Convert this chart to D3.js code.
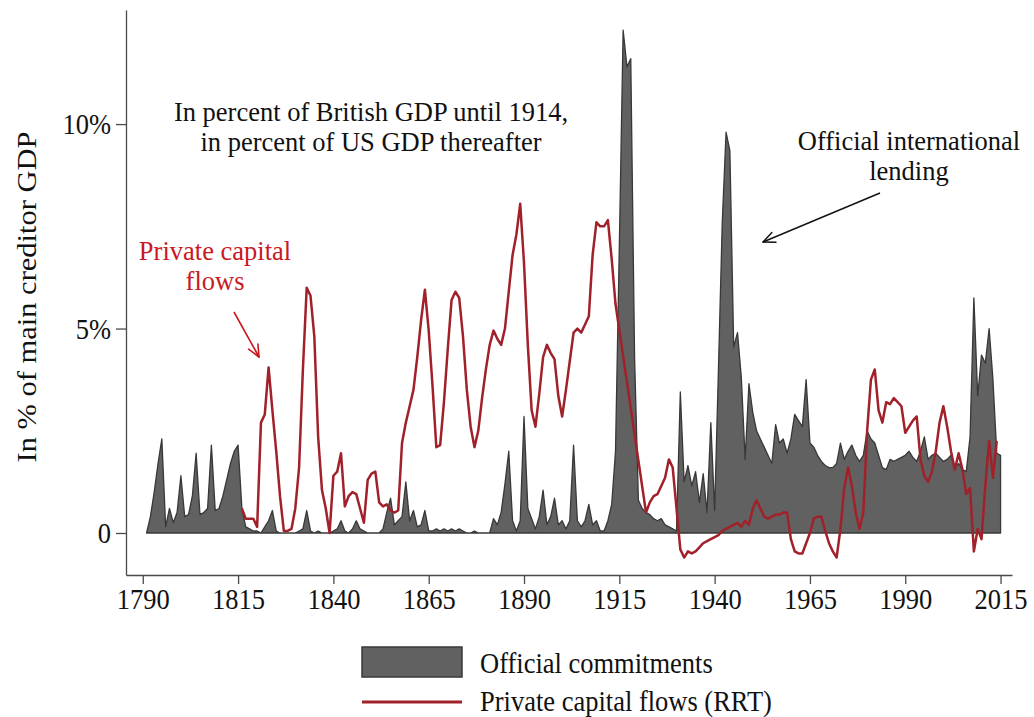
<!DOCTYPE html>
<html>
<head>
<meta charset="utf-8">
<script src="https://cdnjs.cloudflare.com/ajax/libs/d3/7.8.5/d3.min.js"></script>
<style>
  body { margin: 0; background: #fff; }
  svg { display: block; }
  text { font-family: "Liberation Serif", "Times New Roman", serif; }
</style>
</head>
<body>
<svg id="chart" width="1034" height="717"></svg>
<script>
// official commitments, % of main creditor GDP, one value per year from 1791
var officialStart = 1791;
var officialValues = [
  0, 0.4, 1.0, 1.7, 2.3, 0.15, 0.6, 0.25, 0.5, 1.4,          // 1791-1800
  0.4, 0.45, 0.9, 1.95, 0.45, 0.5, 0.6, 2.15, 0.55, 0.6,     // 1801-1810
  0.9, 1.3, 1.7, 2.0, 2.15, 0.6, 0.15, 0.1, 0.05, 0.05,      // 1811-1820
  0, 0.15, 0.3, 0.55, 0.05, 0, 0, 0, 0, 0,                   // 1821-1830
  0.05, 0.1, 0.55, 0.05, 0, 0.05, 0, 0, 0, 0.05,             // 1831-1840
  0.1, 0.3, 0.05, 0, 0.1, 0.3, 0.1, 0.05, 0, 0,              // 1841-1850
  0, 0, 0.1, 0.5, 0.85, 0.2, 0.3, 0.4, 1.25, 0.3,            // 1851-1860
  0.55, 0.15, 0.2, 0.55, 0.05, 0.05, 0.1, 0.05, 0.1, 0.05,   // 1861-1870
  0.1, 0.05, 0.1, 0.05, 0, 0, 0.05, 0, 0, 0,                 // 1871-1880
  0, 0.35, 0.2, 0.5, 1.2, 2.0, 0.3, 0.05, 0.3, 2.85,         // 1881-1890
  0.6, 0.35, 0.1, 0.4, 1.05, 0.2, 0.4, 0.85, 0.2, 0.3,       // 1891-1900
  0.1, 0.3, 2.15, 0.3, 0.15, 0.3, 0.7, 0.2, 0.3, 0.05,       // 1901-1910
  0.05, 0.3, 0.7, 2.0, 7.0, 12.3, 11.4, 11.6, 4.3, 0.8,      // 1911-1920
  0.6, 0.5, 0.45, 0.35, 0.3, 0.35, 0.2, 0.15, 0.1, 0.05,     // 1921-1930
  3.45, 1.25, 1.65, 1.15, 1.5, 0.75, 1.45, 0.5, 2.7, 0.55,   // 1931-1940
  4.0, 7.6, 9.8, 9.35, 4.55, 4.9, 3.8, 1.8, 3.65, 2.95,      // 1941-1950
  2.5, 2.3, 2.1, 1.9, 1.7, 2.65, 2.2, 2.3, 1.95, 2.3,        // 1951-1960
  2.9, 2.75, 2.6, 3.75, 2.2, 2.1, 1.9, 1.75, 1.65, 1.6,      // 1961-1970
  1.6, 1.7, 2.2, 1.8, 2.0, 2.15, 1.9, 1.75, 1.9, 2.5,        // 1971-1980
  2.3, 2.2, 1.9, 1.6, 1.55, 1.8, 1.75, 1.8, 1.85, 1.9,       // 1981-1990
  2.0, 1.85, 1.75, 2.0, 2.35, 1.8, 1.9, 1.95, 1.85, 1.75,    // 1991-2000
  1.8, 1.9, 1.6, 1.7, 1.55, 1.5, 2.35, 5.75, 3.35, 4.35,     // 2001-2010
  4.15, 5.0, 3.75, 1.95, 1.9                                 // 2011-2015
];

// private capital flows (RRT), one value per year from 1816, null = no data
var privateStart = 1816;
var privateValues = [
  0.6, 0.35, 0.35, 0.35, 0.15,                               // 1816-1820
  2.7, 2.9, 4.05, 3.0, 2.0, 0.9, 0.05, 0.05, 0.1, 0.6,       // 1821-1830
  1.6, 4.0, 6.0, 5.8, 4.8, 2.35, 1.05, 0.6, 0.0, 1.4,        // 1831-1840
  1.5, 1.95, 0.65, 0.9, 1.0, 0.95, 0.6, 0.25, 1.3, 1.45,     // 1841-1850
  1.5, 0.75, 0.65, 0.7, 0.55, 0.5, 0.55, 2.2, 2.7, 3.1,      // 1851-1860
  3.5, 4.3, 5.2, 5.95, 4.95, 3.6, 2.1, 2.15, 3.2, 4.5,       // 1861-1870
  5.7, 5.9, 5.75, 4.8, 3.5, 2.6, 2.1, 2.5, 3.3, 4.0,         // 1871-1880
  4.6, 4.95, 4.75, 4.6, 5.0, 5.9, 6.8, 7.3, 8.05, 6.6,       // 1881-1890
  4.6, 3.0, 2.6, 3.4, 4.3, 4.6, 4.4, 4.25, 3.35, 2.85,       // 1891-1900
  3.5, 4.2, 4.9, 5.0, 4.9, 5.1, 5.3, 6.8, 7.6, 7.5,          // 1901-1910
  7.5, 7.65, 6.7, 5.6, null, null, null, null, null, null,   // 1911-1920
  null, 0.5, 0.75, 0.9, 0.95, 1.15, 1.35, 1.8, 1.6, 0.6,     // 1921-1930
  -0.4, -0.6, -0.45, -0.5, -0.45, -0.35, -0.25, -0.2, -0.15, -0.1, // 1931-1940
  -0.05, 0.05, 0.1, 0.15, 0.2, 0.25, 0.15, 0.3, 0.2, 0.6,    // 1941-1950
  0.8, 0.6, 0.4, 0.35, 0.4, 0.45, 0.45, 0.5, 0.5, -0.15,     // 1951-1960
  -0.45, -0.5, -0.5, -0.25, 0.0, 0.35, 0.4, 0.4, 0.05, -0.25, // 1961-1970
  -0.45, -0.6, 0.1, 1.1, 1.6, 1.15, 0.5, 0.1, 0.5, 2.5,      // 1971-1980
  3.75, 4.0, 3.0, 2.7, 3.2, 3.15, 3.3, 3.2, 3.1, 2.45,       // 1981-1990
  2.6, 2.75, 2.85, 1.8, 1.4, 1.25, 1.5, 2.0, 2.7, 3.1,       // 1991-2000
  2.6, 2.0, 1.55, 1.95, 1.55, 0.95, 1.1, -0.45, 0.1, -0.15,  // 2001-2010
  1.15, 2.25, 1.35, 2.25                                     // 2011-2014
];

var xTickYears = [1790, 1815, 1840, 1865, 1890, 1915, 1940, 1965, 1990, 2015];
var yTickValues = [0, 5, 10];

var officialData = officialValues.map(function (v, i) { return { year: officialStart + i, value: v }; });
var privateData = privateValues
  .map(function (v, i) { return { year: privateStart + i, value: v }; })
  .filter(function (d) { return d.value !== null; });

var S = 1.12;     // the picture is stretched a bit vertically (single-line texts)
var FS = 26.5;
var RED_TEXT = "#c8191f";
var RED_LINE = "#a1212b";

var svg = d3.select("#chart");

var x = d3.scaleLinear().domain([1785.6, 2018]).range([126, 1012]);
var y = d3.scaleLinear().domain([-1.027, 12.79]).range([575, 10]);

// official commitments area
var area = d3.area()
  .x(function (d) { return x(d.year); })
  .y0(y(0))
  .y1(function (d) { return y(d.value); });

svg.append("path")
  .datum(officialData)
  .attr("d", area)
  .attr("fill", "#616161")
  .attr("stroke", "#383838")
  .attr("stroke-width", 1.3)
  .attr("stroke-linejoin", "round");

// private flows line
var line = d3.line()
  .x(function (d) { return x(d.year); })
  .y(function (d) { return y(d.value); });

svg.append("path")
  .datum(privateData)
  .attr("d", line)
  .attr("fill", "none")
  .attr("stroke", RED_LINE)
  .attr("stroke-width", 2.5)
  .attr("stroke-linejoin", "round");

// axes
var yAxis = svg.append("g")
  .attr("transform", "translate(126,0)")
  .call(d3.axisLeft(y).tickValues(yTickValues).tickSize(10).tickSizeOuter(0)
    .tickFormat(function (d) { return d === 0 ? "0" : d + "%"; }));

var xAxis = svg.append("g")
  .attr("transform", "translate(0,575)")
  .call(d3.axisBottom(x).tickValues(xTickYears).tickSize(9).tickSizeOuter(0)
    .tickFormat(d3.format("d")));

[yAxis, xAxis].forEach(function (g) {
  g.attr("font-size", null).attr("font-family", null);
  g.select(".domain").attr("stroke", "#4a4a4a").attr("stroke-width", 1.3);
  g.selectAll(".tick line").attr("stroke", "#4a4a4a").attr("stroke-width", 1.3);
  g.selectAll(".tick text").attr("font-size", FS).attr("fill", "#111")
    .style("font-family", '"Liberation Serif", "Times New Roman", serif');
});
yAxis.selectAll(".tick text").attr("x", -15).attr("transform", "scale(1," + S + ")");
xAxis.selectAll(".tick text").attr("y", 34 / S).attr("dy", 0).attr("transform", "scale(1," + S + ")");

// text helper
function label(px, py, str, color, anchor, rot, sy) {
  var g = svg.append("g")
    .attr("transform", "translate(" + px + "," + py + ") scale(1," + (sy || S) + ")" + (rot ? " rotate(" + rot + ")" : ""));
  g.append("text")
    .attr("text-anchor", anchor || "middle")
    .attr("font-size", FS)
    .attr("fill", color || "#111")
    .text(str);
}

function arrow(x1, y1, x2, y2, color, w) {
  var a = Math.atan2(y2 - y1, x2 - x1), L = 13, sp = 0.42;
  svg.append("line").attr("x1", x1).attr("y1", y1).attr("x2", x2).attr("y2", y2)
    .attr("stroke", color).attr("stroke-width", w);
  [a + Math.PI - sp, a + Math.PI + sp].forEach(function (b) {
    svg.append("line").attr("x1", x2).attr("y1", y2)
      .attr("x2", x2 + L * Math.cos(b)).attr("y2", y2 + L * Math.sin(b))
      .attr("stroke", color).attr("stroke-width", w).attr("stroke-linecap", "round");
  });
}

label(36, 297, "In % of main creditor GDP", "#111", "middle", -90, 1.15);

// two-line notes: no vertical stretch so the lines stay apart
label(371, 121, "In percent of British GDP until 1914,", "#111", "middle", 0, 1);
label(371, 151, "in percent of US GDP thereafter", "#111", "middle", 0, 1);

label(909, 150, "Official international", "#111", "middle", 0, 1);
label(909, 180, "lending", "#111", "middle", 0, 1);
arrow(880, 193, 763, 242, "#111", 1.4);

label(215, 260, "Private capital", RED_TEXT, "middle", 0, 1);
label(215, 290, "flows", RED_TEXT, "middle", 0, 1);
arrow(234, 312, 259, 357, RED_TEXT, 1.6);

// legend
svg.append("rect").attr("x", 362).attr("y", 647).attr("width", 100).attr("height", 30)
  .attr("fill", "#616161").attr("stroke", "#383838").attr("stroke-width", 1.5);
label(480, 673, "Official commitments", "#111", "start");
svg.append("line").attr("x1", 362).attr("x2", 462).attr("y1", 702).attr("y2", 702)
  .attr("stroke", RED_LINE).attr("stroke-width", 2.8);
label(480, 711, "Private capital flows (RRT)", "#111", "start");
</script>
</body>
</html>
